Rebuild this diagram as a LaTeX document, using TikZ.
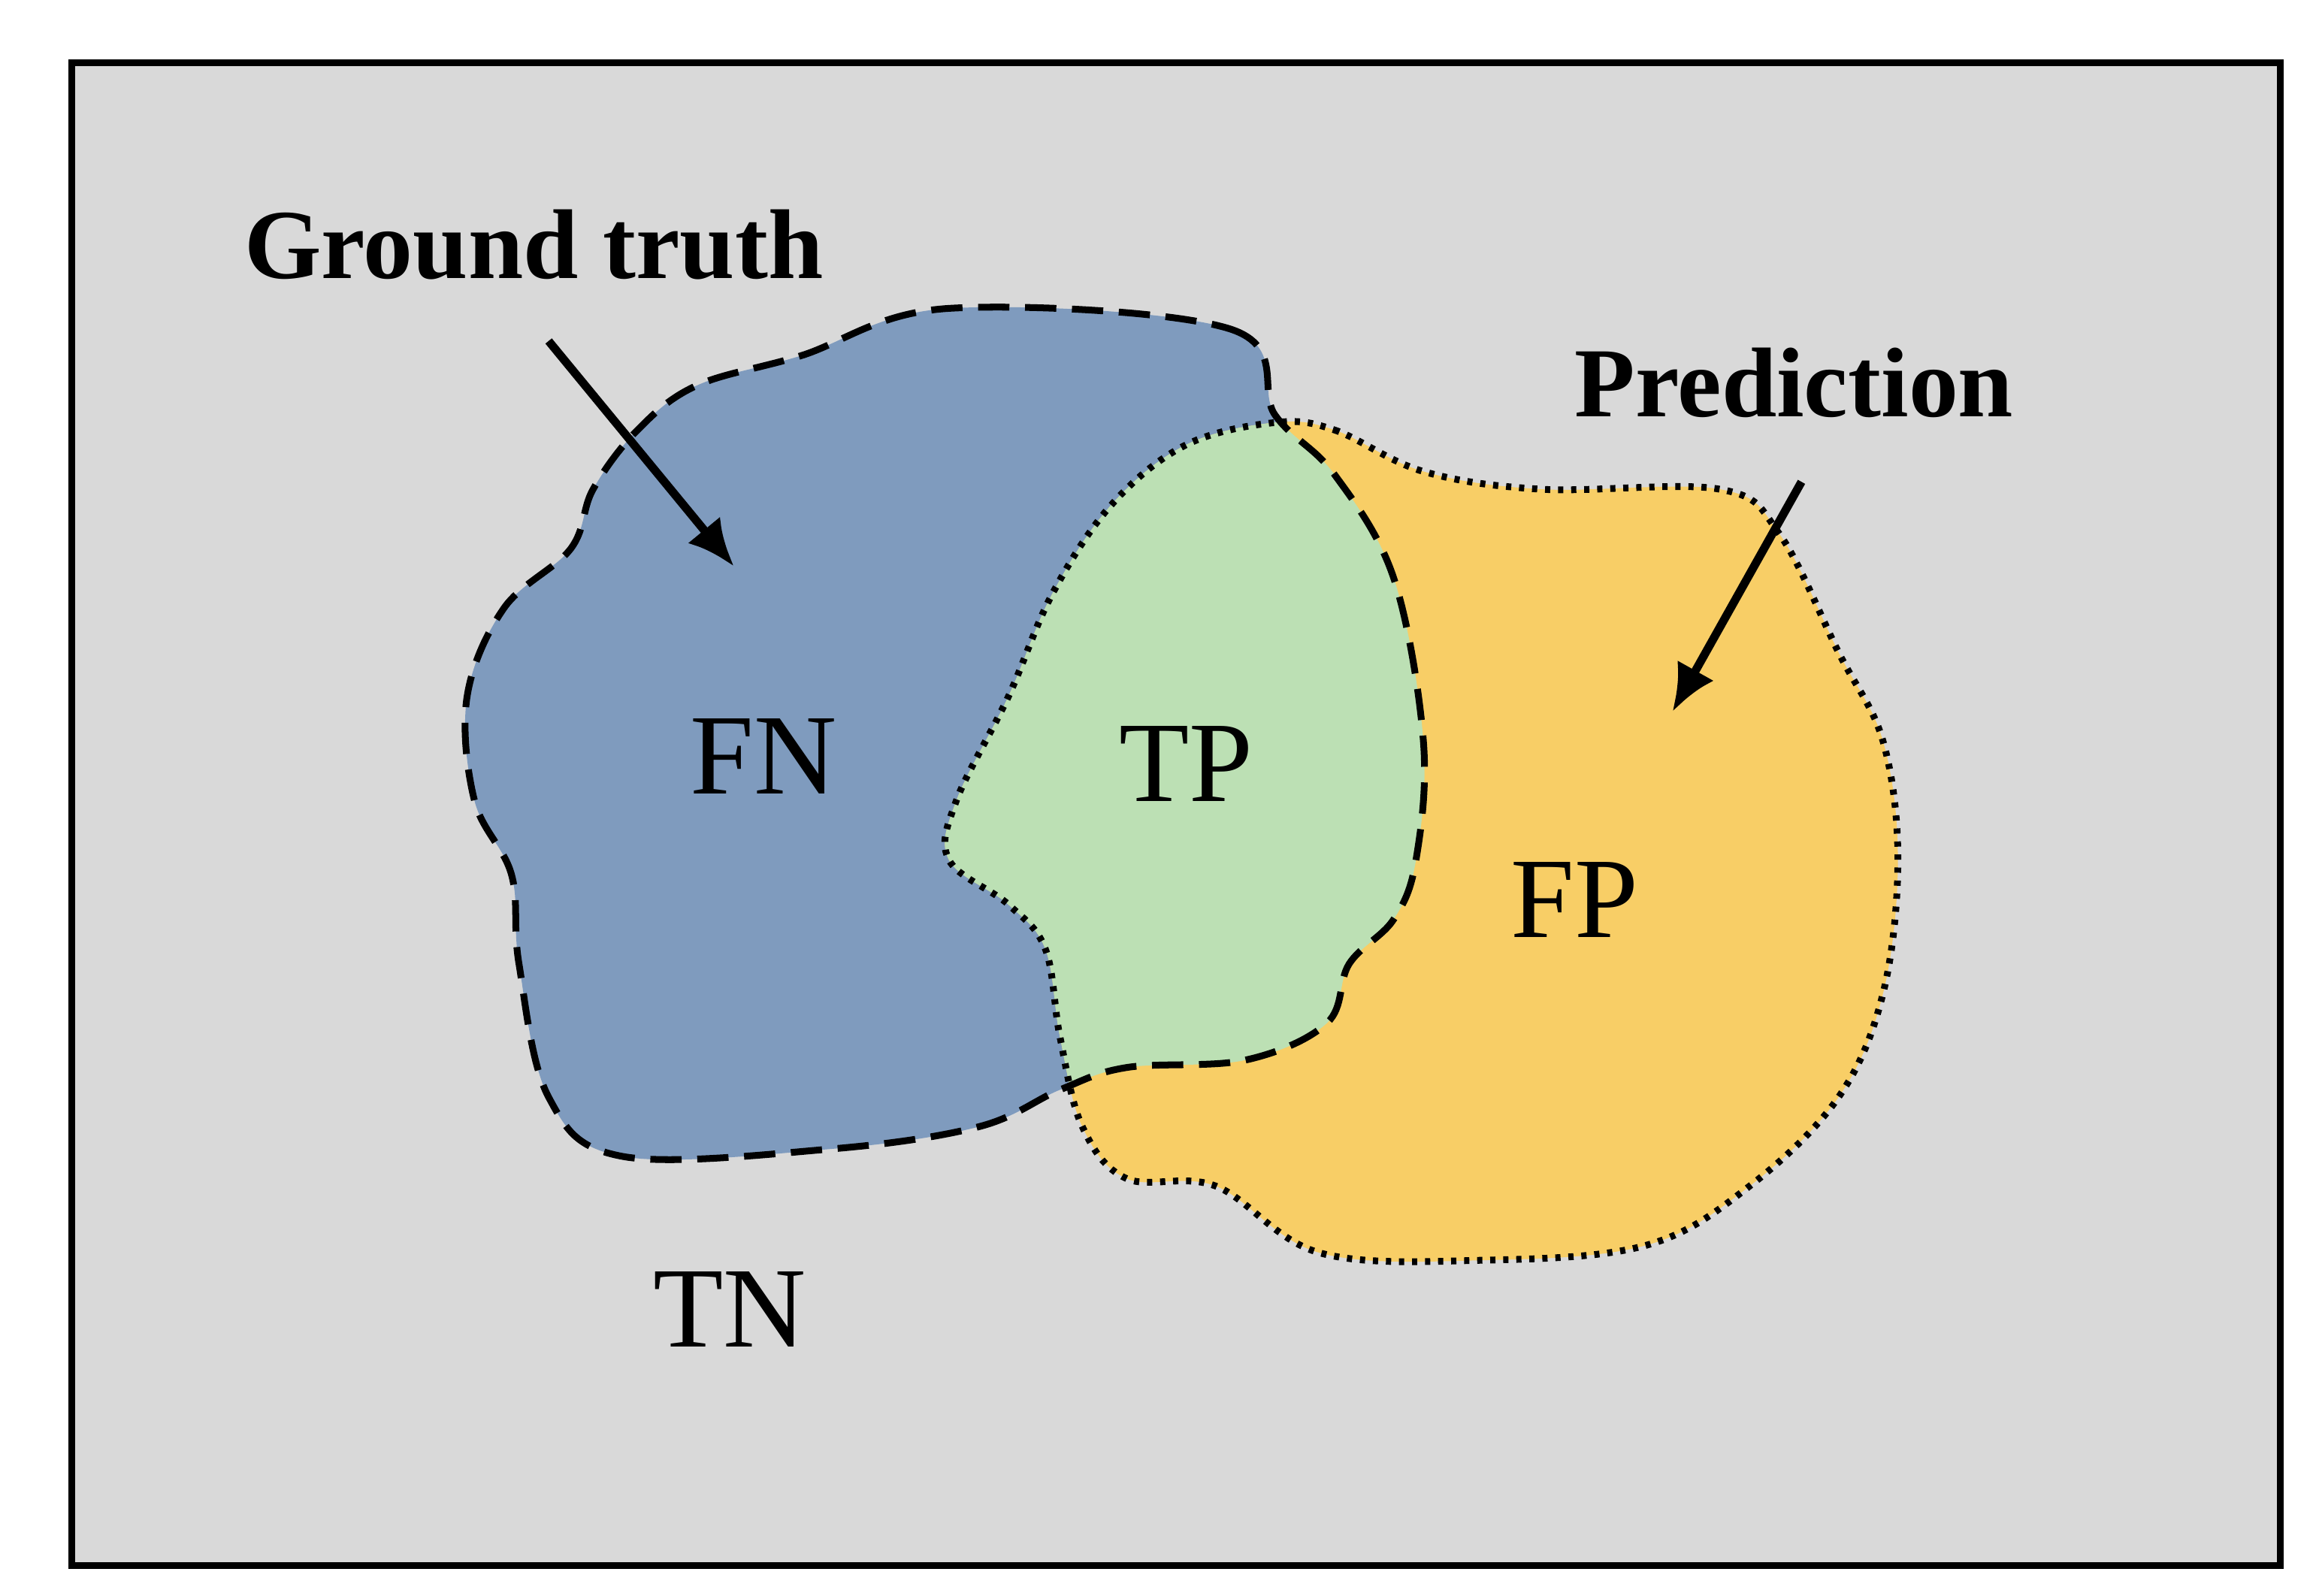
\documentclass[tikz,border=0pt]{standalone}
\usepackage{fontspec}
\setmainfont{Liberation Serif}
\usetikzlibrary{arrows.meta}
\definecolor{bgc}{RGB}{217,217,217}
\definecolor{gtc}{RGB}{127,155,190}
\definecolor{prc}{RGB}{248,206,102}
\definecolor{tpc}{RGB}{188,224,180}
\begin{document}
\begin{tikzpicture}[x=0.01cm,y=-0.01cm,
  lbl/.style={font=\fontsize{22}{24}\selectfont},
  ttl/.style={font=\bfseries\fontsize{19}{22}\selectfont},
  arr/.style={-{Latex[length=9pt,width=8pt]},line width=1.6pt}]
\useasboundingbox (0,0) rectangle (1562,1076);
\node[draw,line width=1.3pt,fill=bgc,minimum width=14.89cm,minimum height=10.13cm,anchor=north west,inner sep=0] (frame) at (46,40) {};
\def\gt{plot[smooth cycle,tension=0.6] coordinates{(640,208)(830,222)(860,280)(900,320)(940,390)(960,500)(955,580)(940,620)(910,650)(895,690)(840,715)(760,720)(715,735)(660,760)(560,775)(420,780)(370,740)(350,650)(345,590)(320,540)(315,470)(340,410)(385,370)(400,330)(430,290)(470,260)(540,240)}}
\def\pr{plot[smooth cycle,tension=0.6] coordinates{(860,285)(900,290)(960,318)(1040,330)(1160,330)(1200,360)(1240,440)(1270,500)(1280,580)(1270,670)(1240,740)(1180,800)(1110,840)(1000,850)(890,845)(820,800)(760,795)(730,760)(715,700)(705,640)(680,610)(640,580)(645,540)(680,470)(710,400)(750,340)(800,300)}}
\fill[gtc] \gt;
\fill[prc] \pr;
\begin{scope}
\clip \gt;
\fill[tpc] \pr;
\end{scope}
\draw[line width=1.3pt,dash pattern=on 6pt off 3pt] \gt;
\draw[line width=1.3pt,dash pattern=on 1pt off 1.5pt] \pr;
\node[ttl] (gtl) at (360,165) {Ground truth};
\node[ttl] (prl) at (1210,258) {Prediction};
\coordinate (a1s) at (370,230); \coordinate (a1e) at (495,382);
\coordinate (a2s) at (1215,325); \coordinate (a2e) at (1128,480);
\draw[arr] (a1s) -- (a1e);
\draw[arr] (a2s) -- (a2e);
\node[lbl] (fn) at (515,510) {FN};
\node[lbl] (tp) at (800,515) {TP};
\node[lbl] (fp) at (1062,607) {FP};
\node[lbl] (tn) at (492,883) {TN};
\end{tikzpicture}
\end{document}
